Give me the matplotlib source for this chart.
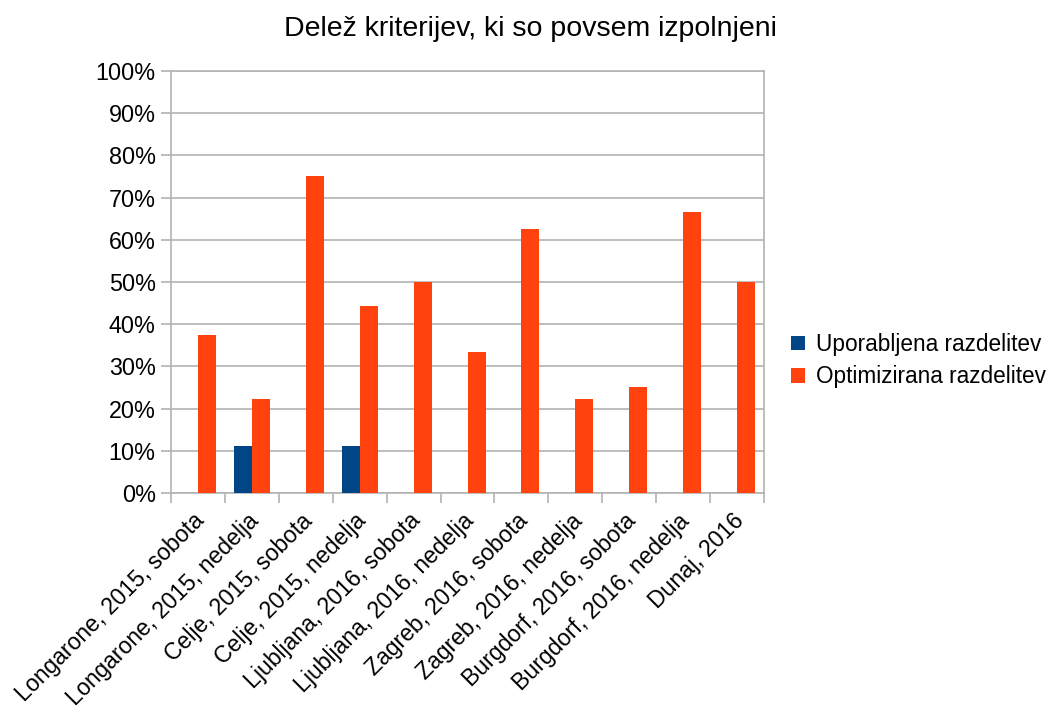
import matplotlib
matplotlib.use("Agg")
import matplotlib.pyplot as plt
import matplotlib.transforms as mtransforms
import numpy as np

categories = [
    "Longarone, 2015, sobota",
    "Longarone, 2015, nedelja",
    "Celje, 2015, sobota",
    "Celje, 2015, nedelja",
    "Ljubljana, 2016, sobota",
    "Ljubljana, 2016, nedelja",
    "Zagreb, 2016, sobota",
    "Zagreb, 2016, nedelja",
    "Burgdorf, 2016, sobota",
    "Burgdorf, 2016, nedelja",
    "Dunaj, 2016",
]
uporabljena = [0, 11.1, 0, 11.1, 0, 0, 0, 0, 0, 0, 0]
optimizirana = [37.5, 22.2, 75.0, 44.4, 50.0, 33.3, 62.5, 22.2, 25.0, 66.7, 50.0]
series_names = ["Uporabljena razdelitev", "Optimizirana razdelitev"]
y_ticks = list(range(0, 101, 10))

plt.rcParams["font.family"] = ["Liberation Sans", "DejaVu Sans"]

fig = plt.figure(figsize=(10.54, 7.07), dpi=100)
ax = fig.add_axes([0.1622, 0.3027, 0.7249 - 0.1622, 0.8996 - 0.3027])

grid_c = "#b3b3b3"
x = np.arange(len(categories))
w = 0.335
ax.bar(x - w / 2, uporabljena, w, color="#004586", label=series_names[0], zorder=3)
ax.bar(x + w / 2, optimizirana, w, color="#ff420e", label=series_names[1], zorder=3)

ax.set_xlim(-0.5, len(categories) - 0.5)
ax.set_ylim(0, 100)
ax.set_yticks(y_ticks)
ax.set_yticklabels([f"{t}%" for t in y_ticks], fontsize=16.8)
ax.yaxis.grid(True, color=grid_c, linewidth=1.2, zorder=0)
ax.tick_params(axis="y", length=7, color=grid_c, width=1.2, pad=4)

ax.set_xticks(x)
ax.set_xticklabels(categories, rotation=45, ha="right", rotation_mode="anchor", fontsize=16.6)
ax.tick_params(axis="x", which="major", length=0, pad=11)
ax.set_xticks(np.arange(-0.5, len(categories)), minor=True)
ax.tick_params(axis="x", which="minor", length=7, color=grid_c, width=1.2)

# nudge the rotated category labels a little to the left
shift = mtransforms.ScaledTranslation(-5 / 100, -1 / 100, fig.dpi_scale_trans)
for lbl in ax.get_xticklabels():
    lbl.set_transform(lbl.get_transform() + shift)

for s in ax.spines.values():
    s.set_color(grid_c)
    s.set_linewidth(1.2)

fig.suptitle("Delež kriterijev, ki so povsem izpolnjeni", fontsize=20.5, x=0.503, y=0.978)

leg = fig.legend(loc="center left", bbox_to_anchor=(0.742, 0.49), frameon=False,
                 fontsize=16.3, handlelength=0.6, handleheight=0.6, handletextpad=0.5,
                 labelspacing=0.42, borderaxespad=0)

fig.savefig("out.png", dpi=100, facecolor="white")
